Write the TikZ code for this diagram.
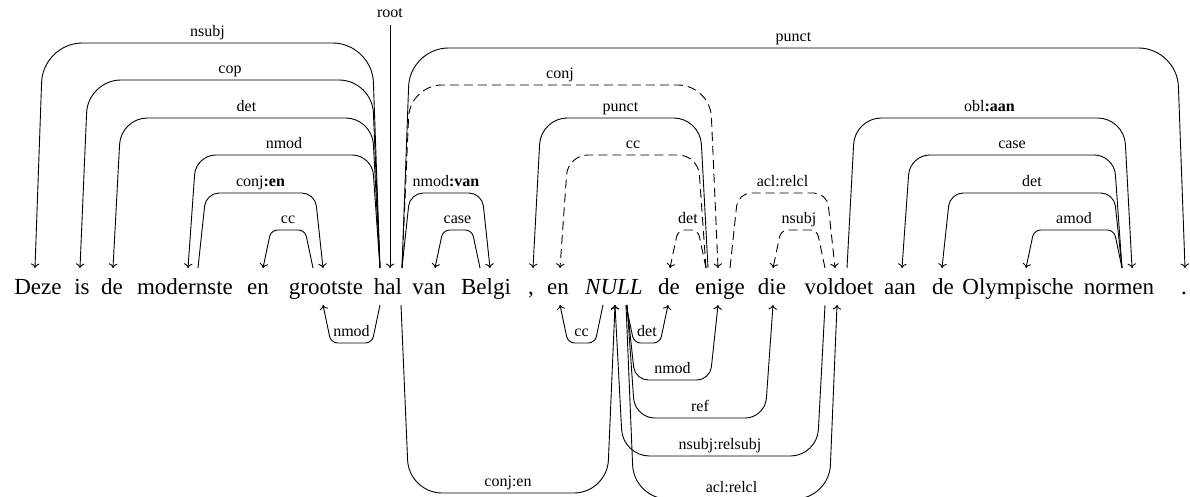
\documentclass[tikz,border=0pt]{standalone}
\usepackage{fontspec}
\setmainfont{Liberation Serif}
\usetikzlibrary{calc,arrows.meta}
\tikzset{
  word/.style={anchor=base, inner sep=0pt, font=\fontsize{23}{27}\selectfont},
  lab/.style={anchor=base, inner sep=0pt, yshift=6.5pt, font=\fontsize{16}{18}\selectfont},
  dep/.style={line width=0.9pt, -{To[length=4.5pt,width=8.5pt]}},
  ddep/.style={dep, dash pattern=on 9pt off 5pt},
}
% #1 style, #2 from node, #3 from dx, #4 to node, #5 to dx, #6 level, #7 slant, #8 label
\newcommand\topedge[8]{%
  \pgfmathsetmacro\hh{#6-268}%
  \pgfmathsetmacro\rr{abs(\hh)*0.175}%
  \pgfmathsetmacro\ss{-(#7)}%
  \draw[#1,rounded corners=\rr pt]
    ([xshift=#3pt,yshift=26pt]#2.base)
    -- ++(#7,\hh)
    -- node[lab,midway]{#8} ($([xshift=#5pt,yshift=26pt]#4.base)+(\ss,\hh)$)
    -- ([xshift=#5pt,yshift=26pt]#4.base);
}
\newcommand\botedge[8]{%
  \pgfmathsetmacro\hh{#6-305}%
  \pgfmathsetmacro\rr{abs(\hh)*0.175}%
  \pgfmathsetmacro\ss{-(#7)}%
  \draw[#1,rounded corners=\rr pt]
    ([xshift=#3pt,yshift=-11pt]#2.base)
    -- ++(#7,\hh)
    -- node[lab,midway]{#8} ($([xshift=#5pt,yshift=-11pt]#4.base)+(\ss,\hh)$)
    -- ([xshift=#5pt,yshift=-11pt]#4.base);
}
\begin{document}
\begin{tikzpicture}[x=1pt,y=-1pt]
\useasboundingbox (0,0) rectangle (1190,497);
\clip (0,0) rectangle (1190,497);
% words
\node[word] (w1) at (38,294) {Deze};
\node[word] (w2) at (82,294) {is};
\node[word] (w3) at (112,294) {de};
\node[word] (w4) at (185,294) {modernste};
\node[word] (w5) at (258,294) {en};
\node[word] (w6) at (326,294) {grootste};
\node[word] (w7) at (388,294) {hal};
\node[word] (w8) at (429,294) {van};
\node[word] (w9) at (486,294) {Belgi};
\node[word] (w10) at (531,294) {,};
\node[word] (w11) at (558,294) {en};
\node[word] (w12) at (614,294) {\textit{NULL}};
\node[word] (w13) at (669,294) {de};
\node[word] (w14) at (720,294) {enige};
\node[word] (w15) at (772,294) {die};
\node[word] (w16) at (839,294) {voldoet};
\node[word] (w17) at (900,294) {aan};
\node[word] (w18) at (943,294) {de};
\node[word] (w19) at (1018,294) {Olympische};
\node[word] (w20) at (1119,294) {normen};
\node[word] (w21) at (1184,294) {.};
% root
\node[lab,yshift=-6.5pt] (rootlab) at (390,18) {root};
\draw[dep] ([yshift=-7pt]rootlab.base) -- ([xshift=2pt,yshift=26pt]w7.base);
% top edges
\topedge{dep}{w7}{-8}{w1}{-3}{43}{-8}{nsubj}
\topedge{dep}{w7}{-8}{w2}{-2}{80}{-8}{cop}
\topedge{dep}{w7}{-8}{w3}{1}{118}{-8}{det}
\topedge{dep}{w7}{-8}{w4}{3}{155}{-8}{nmod}
\topedge{dep}{w4}{13}{w6}{-3}{193}{8}{conj\textbf{:en}}
\topedge{dep}{w6}{-13}{w5}{5}{230}{-8}{cc}
\topedge{dep}{w7}{14}{w21}{1}{48}{8}{punct}
\topedge{ddep}{w7}{14}{w14}{-2}{85}{8}{conj}
\topedge{dep}{w14}{-12}{w10}{2}{118}{-8}{punct}
\topedge{ddep}{w14}{-14}{w11}{2}{155}{-8}{cc}
\topedge{dep}{w7}{14}{w9}{4}{193}{8}{nmod\textbf{:van}}
\topedge{dep}{w9}{-6}{w8}{6}{230}{-8}{case}
\topedge{ddep}{w14}{-14}{w13}{1}{230}{-8}{det}
\topedge{ddep}{w14}{10}{w16}{-4}{193}{8}{acl:relcl}
\topedge{ddep}{w16}{-14}{w15}{1}{230}{-8}{nsubj}
\topedge{dep}{w16}{8}{w20}{13}{118}{8}{obl\textbf{:aan}}
\topedge{dep}{w20}{3}{w17}{2}{155}{-8}{case}
\topedge{dep}{w20}{3}{w18}{-1}{193}{-8}{det}
\topedge{dep}{w20}{3}{w19}{8}{230}{-8}{amod}
% bottom edges
\botedge{dep}{w7}{-8}{w6}{-3}{343}{-8}{nmod}
\botedge{dep}{w12}{-11}{w11}{2}{343}{-8}{cc}
\botedge{dep}{w12}{12}{w13}{-1}{343}{8}{det}
\botedge{dep}{w12}{13}{w14}{-2}{380}{8}{nmod}
\botedge{dep}{w12}{13}{w15}{1}{418}{8}{ref}
\botedge{dep}{w16}{-14}{w12}{1}{456}{-8}{nsubj:relsubj}
\botedge{dep}{w7}{13}{w12}{1}{493}{8}{conj:en}
\botedge{dep}{w12}{12}{w16}{-2}{499}{8}{acl:relcl}
\end{tikzpicture}
\end{document}
